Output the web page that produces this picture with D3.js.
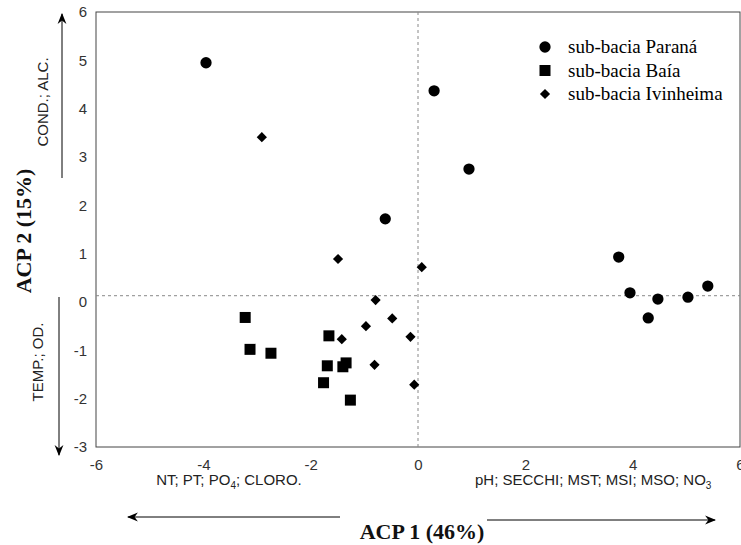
<!DOCTYPE html>
<html><head><meta charset="utf-8">
<script src="https://cdn.jsdelivr.net/npm/d3@7"></script>
<style>body{margin:0;background:#fff}svg{display:block}</style>
</head><body>
<script>
const seriesNames = ["sub-bacia Paraná", "sub-bacia Baía", "sub-bacia Ivinheima"];
const paranaX = [-3.95, 0.30, 0.95, -0.61, 3.74, 3.95, 4.47, 4.29, 5.03, 5.40];
const paranaY = [4.95, 4.37, 2.75, 1.72, 0.93, 0.19, 0.06, -0.33, 0.10, 0.33];
const baiaX = [-3.22, -3.13, -2.74, -1.66, -1.69, -1.34, -1.40, -1.76, -1.26];
const baiaY = [-0.32, -0.98, -1.06, -0.70, -1.32, -1.26, -1.34, -1.67, -2.03];
const ivinX = [-2.91, -1.49, 0.07, -0.79, -0.48, -0.97, -1.42, -0.14, -0.81, -0.07];
const ivinY = [3.41, 0.89, 0.72, 0.04, -0.34, -0.50, -0.77, -0.72, -1.30, -1.71];
const xTicks = [-6, -4, -2, 0, 2, 4, 6];
const yTicks = [-3, -2, -1, 0, 1, 2, 3, 4, 5, 6];
const hRef = 0.13, vRef = 0;

const W = 741, H = 545;
const svg = d3.select("body").append("svg").attr("width", W).attr("height", H);
const x = d3.scaleLinear().domain([-6, 6]).range([96, 740]);
const y = d3.scaleLinear().domain([-3, 6]).range([447, 12]);
const sans = "Liberation Sans, Arial";
const serif = "Liberation Serif, Times New Roman";

// frame
svg.append("rect").attr("x", 96).attr("y", 12).attr("width", 644).attr("height", 435)
  .attr("fill", "none").attr("stroke", "#444").attr("stroke-width", 1);

// reference lines
svg.append("line").attr("x1", x(-6)).attr("x2", x(6)).attr("y1", y(hRef)).attr("y2", y(hRef))
  .attr("stroke", "#888").attr("stroke-dasharray", "3,3");
svg.append("line").attr("x1", x(vRef)).attr("x2", x(vRef)).attr("y1", y(6)).attr("y2", y(-3))
  .attr("stroke", "#888").attr("stroke-dasharray", "3,3");

// axes
const fmt = d => String(d);
const xAxis = d3.axisBottom(x).tickValues(xTicks).tickFormat(fmt).tickSize(0).tickPadding(12);
const gx = svg.append("g").attr("transform", "translate(0,447)").call(xAxis);
gx.select(".domain").remove();
gx.selectAll("text").attr("font-family", sans).attr("font-size", 15).attr("fill", "#333");
const yAxis = d3.axisLeft(y).tickValues(yTicks).tickFormat(fmt).tickSize(0).tickPadding(9);
const gy = svg.append("g").attr("transform", "translate(96,0)").call(yAxis);
gy.select(".domain").remove();
gy.selectAll("text").attr("font-family", sans).attr("font-size", 15).attr("fill", "#333");

// points
const sym = {
  circle: d3.symbol().type(d3.symbolCircle).size(100),
  square: d3.symbol().type(d3.symbolSquare).size(121),
  diamond: d3.symbol().type(d3.symbolSquare).size(52)
};
function plot(xs, ys, kind) {
  svg.append("g").selectAll("path").data(xs.map((v, i) => [v, ys[i]])).join("path")
    .attr("d", sym[kind])
    .attr("transform", d => `translate(${x(d[0])},${y(d[1])})` + (kind === "diamond" ? " rotate(45)" : ""))
    .attr("fill", "#000");
}
plot(paranaX, paranaY, "circle");
plot(baiaX, baiaY, "square");
plot(ivinX, ivinY, "diamond");

// legend
const kinds = ["circle", "square", "diamond"];
seriesNames.forEach((n, i) => {
  const ly = 47 + i * 23.5;
  svg.append("path").attr("d", sym[kinds[i]])
    .attr("transform", `translate(545,${ly})` + (kinds[i] === "diamond" ? " rotate(45)" : ""))
    .attr("fill", "#000");
  svg.append("text").attr("x", 568).attr("y", ly + 6).text(n)
    .attr("font-family", serif).attr("font-size", 19).attr("fill", "#000");
});

// arrow marker
const defs = svg.append("defs");
defs.append("marker").attr("id", "ah").attr("viewBox", "0 0 10 10").attr("refX", 9).attr("refY", 5)
  .attr("markerWidth", 11).attr("markerHeight", 11).attr("markerUnits", "userSpaceOnUse").attr("orient", "auto")
  .append("path").attr("d", "M0,1 L10,5 L0,9 L3,5 Z").attr("fill", "#000");

function arrow(x1, y1, x2, y2) {
  svg.append("line").attr("x1", x1).attr("y1", y1).attr("x2", x2).attr("y2", y2)
    .attr("stroke", "#000").attr("stroke-width", 1).attr("marker-end", "url(#ah)");
}
arrow(62, 178, 62, 14);
arrow(59, 297, 59, 455);
arrow(340, 517, 128, 517);
arrow(487, 520, 715, 520);

svg.append("text").attr("transform", "translate(48,102) rotate(-90)").attr("text-anchor", "middle")
  .attr("font-family", sans).attr("font-size", 15).attr("fill", "#222").text("COND.; ALC.");
svg.append("text").attr("transform", "translate(43,362) rotate(-90)").attr("text-anchor", "middle")
  .attr("font-family", sans).attr("font-size", 15).attr("fill", "#222").text("TEMP.; OD.");

const t1 = svg.append("text").attr("x", 229).attr("y", 485).attr("text-anchor", "middle")
  .attr("font-family", sans).attr("font-size", 15).attr("fill", "#222");
t1.append("tspan").text("NT; PT; PO");
t1.append("tspan").attr("font-size", 10).attr("dy", 4).text("4");
t1.append("tspan").attr("dy", -4).text("; CLORO.");

const t2 = svg.append("text").attr("x", 475).attr("y", 485)
  .attr("font-family", sans).attr("font-size", 15).attr("fill", "#222");
t2.append("tspan").text("pH; SECCHI; MST; MSI; MSO; NO");
t2.append("tspan").attr("font-size", 10).attr("dy", 4).text("3");

svg.append("text").attr("x", 422).attr("y", 539).attr("text-anchor", "middle")
  .attr("font-family", serif).attr("font-weight", "bold").attr("font-size", 22)
  .attr("fill", "#111").text("ACP 1 (46%)");
svg.append("text").attr("transform", "translate(31,231) rotate(-90)").attr("text-anchor", "middle")
  .attr("font-family", serif).attr("font-weight", "bold").attr("font-size", 22)
  .attr("fill", "#111").text("ACP 2 (15%)");
</script>
</body></html>
